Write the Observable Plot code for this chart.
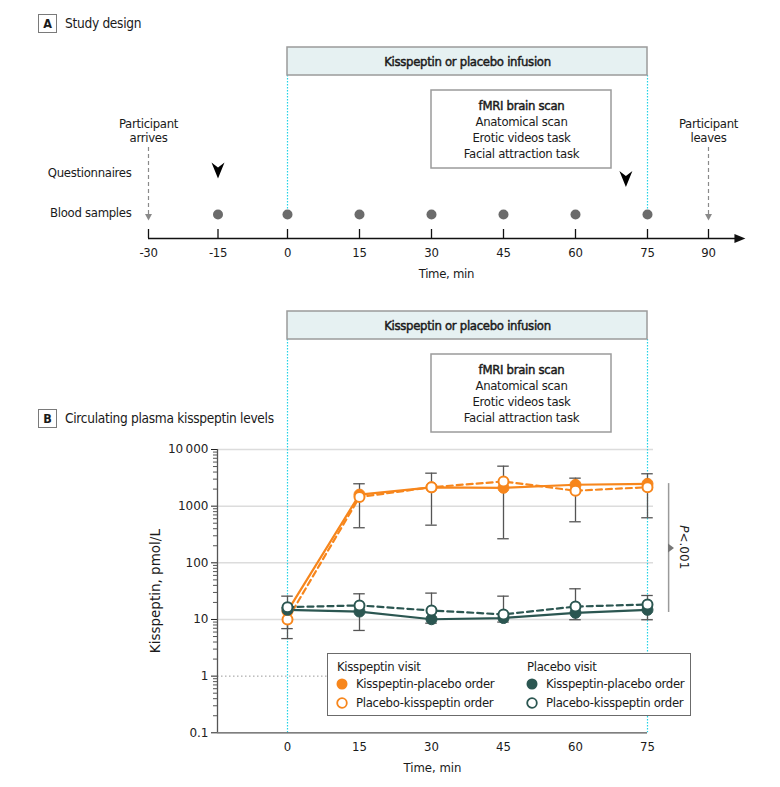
<!DOCTYPE html>
<html>
<head>
<meta charset="utf-8">
<script src="https://cdn.jsdelivr.net/npm/d3@7"></script>
<script src="https://cdn.jsdelivr.net/npm/@observablehq/plot@0.6"></script>
<style>
  html,body{margin:0;padding:0;background:#fff;}
  #wrap{position:relative;width:780px;height:787px;overflow:hidden;font-family:"DejaVu Sans Condensed","Liberation Sans Narrow","Arial Narrow",sans-serif;color:#1a1a1a;}
  #wrap svg{display:block;}
  .panel{position:absolute;left:38px;display:flex;align-items:center;font-size:13.6px;letter-spacing:-0.3px;line-height:19px;white-space:nowrap;}
  .panel .letter{box-sizing:border-box;width:19px;height:19px;border:1px solid #7a7a7a;text-align:center;font-weight:bold;font-size:12.5px;letter-spacing:0;line-height:17px;margin-right:8px;background:#fff;}
  .legend{position:absolute;left:327px;top:653px;width:364px;height:63px;box-sizing:border-box;border:1px solid #6b6b6b;background:#fff;font-size:13px;letter-spacing:-0.3px;}
  .legend .item{position:absolute;white-space:nowrap;line-height:18px;}
  .legend svg{position:absolute;overflow:visible;}
</style>
</head>
<body>
<div id="wrap"></div>
<script>
// ================= DATA =================
// Panel A: study design timeline
const timelineTicks = [-30, -15, 0, 15, 30, 45, 60, 75, 90];
const bloodSampleTimes = [-15, 0, 15, 30, 45, 60, 75];
const questionnaireTimes = [-15, 70.5];
const participantEvents = [
  {t: -30, label: "Participant\narrives"},
  {t: 90, label: "Participant\nleaves"}
];
const infusionWindow = [0, 75];
const infusionLabel = "Kisspeptin or placebo infusion";
const scanWindow = [30, 67.5];
const scanLines = ["fMRI brain scan", "Anatomical scan", "Erotic videos task", "Facial attraction task"];
const rowLabels = ["Questionnaires", "Blood samples"];
const timeTitle = "Time, min";

// Panel B: circulating plasma kisspeptin (pmol/L)
const times = [0, 15, 30, 45, 60, 75];
const kissVisitKP = [14, 1600, 2150, 2110, 2385, 2480];   // kisspeptin visit, kisspeptin-placebo order
const kissVisitPK = [10, 1450, 2160, 2730, 1870, 2160];   // kisspeptin visit, placebo-kisspeptin order
const placVisitKP = [14.8, 13.8, 10.1, 10.6, 13.1, 14.8]; // placebo visit, kisspeptin-placebo order
const placVisitPK = [16.5, 17.7, 14.4, 12.3, 16.9, 18.4]; // placebo visit, placebo-kisspeptin order
const kissErrLow  = [4.6, 416, 462, 266, 530, 624];
const kissErrHigh = [16, 2484, 3820, 5080, 3120, 3730];
const placErrLow  = [6.9, 6.4, 8.6, 9.0, 9.9, 9.9];
const placErrHigh = [25.8, 28.4, 29.2, 25.8, 34.8, 26.5];
const yTicks = [0.1, 1, 10, 100, 1000, 10000];
const gridValues = [10, 100, 1000, 10000];
const dottedRef = [1];
const pBracket = [{lo: 13.3, hi: 2500, mid: 182, joint: 343}];
const yTitle = "Kisspeptin, pmol/L";
const visits = ["Kisspeptin visit", "Placebo visit"];
const orders = ["Kisspeptin-placebo order", "Placebo-kisspeptin order"];
const panelTitles = [{letter: "A", text: "Study design"}, {letter: "B", text: "Circulating plasma kisspeptin levels"}];

// ================= STYLE / LAYOUT =================
const NARROW = '"DejaVu Sans Condensed","Liberation Sans Narrow","Arial Narrow",sans-serif';
const FS = 13;
const ORANGE = "#f7861c", GREEN = "#2b5651", CYAN = "#22d3e6", ERR = "#555", AXIS = "#555", INK = "#1a1a1a";

const chevronDown = {draw(ctx) { ctx.moveTo(0, 8); ctx.lineTo(-6.5, -8); ctx.lineTo(0, -3); ctx.lineTo(6.5, -8); ctx.closePath(); }};
const triDown = {draw(ctx) { ctx.moveTo(0, 3); ctx.lineTo(-3.5, -3.5); ctx.lineTo(3.5, -3.5); ctx.closePath(); }};
const triRight = {draw(ctx) { ctx.moveTo(6, 0); ctx.lineTo(-5, -4.5); ctx.lineTo(-5, 4.5); ctx.closePath(); }};
const triRightSmall = {draw(ctx) { ctx.moveTo(3, 0); ctx.lineTo(-3, -4.5); ctx.lineTo(-3, 4.5); ctx.closePath(); }};

// Panel A (plus panel B header boxes) pixel rows
const infBoxes = [{y1: 47, y2: 75, ty: 61}, {y1: 311, y2: 339, ty: 325}];
const scanBoxes = [{y1: 90, y2: 168, ty: 105}, {y1: 354, y2: 432, ty: 369}];
const lineGap = 16;
const cyanSegs = [{y1: 75, y2: 214}, {y1: 339, y2: 440}];
const rowY = {partText: 130, partArrowTop: 147, partArrowBot: 215, partHead: 217,
  labels: [172, 212], questMarks: [170, 178.5], blood: 214, axis: 238, tickTop: 229,
  tickLabel: 252, axisTitle: 273};

const scanText = scanBoxes.flatMap(b => scanLines.map((s, i) => ({s, y: b.ty + i * lineGap, bold: i === 0})));
const cyanRules = cyanSegs.flatMap(seg => infusionWindow.map(t => ({t, ...seg})));

const plotA = Plot.plot({
  width: 780, height: 440, margin: 0,
  x: {type: "linear", domain: [-30, 0, 75, 90], range: [148, 287, 647, 708], axis: null},
  y: {type: "linear", domain: [0, 440], range: [0, 440], axis: null},
  style: {fontFamily: NARROW, fontSize: FS + "px", letterSpacing: "-0.3px", color: INK, background: "transparent", overflow: "visible"},
  marks: [
    Plot.ruleX(cyanRules, {x: "t", y1: "y1", y2: "y2", stroke: CYAN, strokeWidth: 1.2, strokeDasharray: "1.5,1.5"}),
    Plot.rect(infBoxes, {x1: () => infusionWindow[0], x2: () => infusionWindow[1], y1: "y1", y2: "y2", fill: "#e6f1f2", stroke: "#9b9b9b", strokeWidth: 1.5}),
    Plot.text(infBoxes, {x: () => (infusionWindow[0] + infusionWindow[1]) / 2, y: "ty", text: () => infusionLabel, fill: INK, stroke: INK, strokeWidth: 0.45}),
    Plot.rect(scanBoxes, {x1: () => scanWindow[0], x2: () => scanWindow[1], y1: "y1", y2: "y2", fill: "white", stroke: "#9b9b9b", strokeWidth: 1.5}),
    Plot.text(scanText.filter(d => d.bold), {x: () => (scanWindow[0] + scanWindow[1]) / 2, y: "y", text: "s", fill: INK, stroke: INK, strokeWidth: 0.45}),
    Plot.text(scanText.filter(d => !d.bold), {x: () => (scanWindow[0] + scanWindow[1]) / 2, y: "y", text: "s"}),
    // participant arrive/leave
    Plot.text(participantEvents, {x: "t", y: () => rowY.partText, text: "label", lineHeight: 1.08}),
    Plot.ruleX(participantEvents, {x: "t", y1: () => rowY.partArrowTop, y2: () => rowY.partArrowBot, stroke: "#8a8a8a", strokeWidth: 1.2, strokeDasharray: "4,3"}),
    Plot.dot(participantEvents, {x: "t", y: () => rowY.partHead, symbol: triDown, fill: "#8a8a8a", stroke: "none"}),
    // row labels
    Plot.text(rowLabels, {frameAnchor: "left", dx: 131, textAnchor: "end", y: (d, i) => rowY.labels[i], text: d => d}),
    // questionnaires
    Plot.dot(questionnaireTimes, {x: d => d, y: (d, i) => rowY.questMarks[i], symbol: chevronDown, fill: "#000", stroke: "none"}),
    // blood samples
    Plot.dot(bloodSampleTimes, {x: d => d, y: () => rowY.blood, r: 5, fill: "#6b6b6b"}),
    // axis
    Plot.ruleY([rowY.axis], {x1: -30, x2: 97.5, y: d => d, stroke: "#111", strokeWidth: 1.5}),
    Plot.dot([rowY.axis], {x: () => 97.6, y: d => d, symbol: triRight, fill: "#111", stroke: "none"}),
    Plot.ruleX(timelineTicks, {x: d => d, y1: () => rowY.tickTop, y2: () => rowY.axis, stroke: "#111", strokeWidth: 1.3}),
    Plot.text(timelineTicks, {x: d => d, y: () => rowY.tickLabel, text: d => String(d)}),
    Plot.text([timeTitle], {x: () => 33.1, y: () => rowY.axisTitle, text: d => d})
  ]
});

// Panel B chart
const xmin = -14.583, xmax = 76.25;
const series = [
  {values: kissVisitKP, color: ORANGE, filled: true, dash: null},
  {values: kissVisitPK, color: ORANGE, filled: false, dash: "6,4"},
  {values: placVisitKP, color: GREEN, filled: true, dash: null},
  {values: placVisitPK, color: GREEN, filled: false, dash: "6,4"}
];
const seriesRows = series.map(s => times.map((t, i) => ({t, v: s.values[i]})));
const errRows = [
  ...times.map((t, i) => ({t, lo: kissErrLow[i], hi: kissErrHigh[i]})),
  ...times.map((t, i) => ({t, lo: placErrLow[i], hi: placErrHigh[i]}))
];
const capRows = errRows.flatMap(d => [{t: d.t, v: d.lo}, {t: d.t, v: d.hi}]);
const minorTicks = [0.1, 1, 10, 100, 1000].flatMap(dec => [2, 3, 4, 5, 6, 7, 8, 9].map(k => dec * k));
const capHalf = 1.2;

const lineMarks = series.map((s, k) => Plot.line(seriesRows[k], {x: "t", y: "v", stroke: s.color, strokeWidth: 2.2, strokeDasharray: s.dash || undefined}));
const dotMarks = series.map((s, k) => Plot.dot(seriesRows[k], {x: "t", y: "v", r: s.filled ? 5.5 : 5, fill: s.filled ? s.color : "white", stroke: s.color, strokeWidth: s.filled ? 1 : 2}));

const plotB = Plot.plot({
  width: 780, height: 347, marginTop: 9, marginBottom: 54.7, marginLeft: 217, marginRight: 127,
  x: {domain: [xmin, xmax], axis: null},
  y: {type: "log", domain: [0.1, 10000], ticks: yTicks, tickSize: 6, tickPadding: 3, label: null,
      tickFormat: d => d === 10000 ? "10\u2009000" : String(d)},
  style: {fontFamily: '"DejaVu Sans", Verdana, sans-serif', fontSize: "12px", color: "#222", background: "transparent", overflow: "visible"},
  marks: [
    Plot.ruleY(gridValues, {x1: xmin, x2: xmax, y: d => d, stroke: "#dcdcdc", strokeWidth: 1.5}),
    Plot.ruleY(dottedRef, {x1: xmin, x2: xmax, y: d => d, stroke: "#999", strokeWidth: 1, strokeDasharray: "1.5,2.5"}),
    Plot.ruleX(infusionWindow, {x: d => d, insetTop: -9, stroke: CYAN, strokeWidth: 1.2, strokeDasharray: "1.5,1.5"}),
    Plot.ruleY(minorTicks, {x1: xmin - 4 / 4.8, x2: xmin, y: d => d, stroke: AXIS, strokeWidth: 1}),
    Plot.ruleX([xmin], {x: d => d, y1: 0.1, y2: 10000, stroke: AXIS, strokeWidth: 1.3}),
    Plot.ruleY([0.1], {x1: xmin, x2: 75, y: d => d, stroke: AXIS, strokeWidth: 1.3}),
    // error bars
    Plot.ruleX(errRows, {x: "t", y1: "lo", y2: "hi", stroke: ERR, strokeWidth: 1.3}),
    Plot.ruleY(capRows, {x1: d => d.t - capHalf, x2: d => d.t + capHalf, y: "v", stroke: ERR, strokeWidth: 1.3}),
    ...lineMarks,
    ...dotMarks,
    // P bracket
    Plot.ruleX(pBracket, {x: () => 79.4, y1: "lo", y2: "hi", stroke: "#9a9a9a", strokeWidth: 1.5}),
    Plot.dot(pBracket, {x: () => 79.9, y: "mid", symbol: triRightSmall, fill: "#777", stroke: "none"}),
    Plot.text(pBracket, {x: () => 82.5, y: "joint", text: () => "P", rotate: 90, textAnchor: "end", fontStyle: "italic", fontSize: 12}),
    Plot.text(pBracket, {x: () => 82.5, y: "joint", text: () => "<.001", rotate: 90, textAnchor: "start", fontSize: 12}),
    // x tick labels and titles
    Plot.text(times, {x: d => d, y: () => 0.1, dy: 14, text: d => String(d), fontFamily: NARROW, fontSize: FS, fill: INK}),
    Plot.text([timeTitle], {x: () => (xmin + 75) / 2, y: () => 0.1, dy: 35, text: d => d, fontFamily: NARROW, fontSize: FS, fill: INK}),
    Plot.text([yTitle], {frameAnchor: "left", dx: -62, rotate: -90, textAnchor: "middle", text: d => d, fontSize: 13.5, fill: INK})
  ]
});

const wrap = document.getElementById("wrap");
wrap.appendChild(plotA);
wrap.appendChild(plotB);

// panel titles
[14, 409].forEach((top, i) => {
  const d = document.createElement("div");
  d.className = "panel";
  d.style.top = top + "px";
  d.innerHTML = `<span class="letter">${panelTitles[i].letter}</span><span>${panelTitles[i].text}</span>`;
  wrap.appendChild(d);
});

// legend
const leg = document.createElement("div");
leg.className = "legend";
const groupLeft = [9, 199];
const colors = [ORANGE, GREEN];
visits.forEach((v, g) => {
  const h = document.createElement("div");
  h.className = "item";
  h.style.left = groupLeft[g] + "px";
  h.style.top = (14 - 10) + "px";
  h.textContent = v;
  leg.appendChild(h);
  orders.forEach((o, k) => {
    const cy = [31, 50][k] - 1;
    const s = document.createElementNS("http://www.w3.org/2000/svg", "svg");
    s.setAttribute("width", 14); s.setAttribute("height", 14);
    s.style.left = (groupLeft[g] + 5 - 7) + "px";
    s.style.top = (cy - 7) + "px";
    const c = document.createElementNS("http://www.w3.org/2000/svg", "circle");
    c.setAttribute("cx", 7); c.setAttribute("cy", 7);
    if (k === 0) { c.setAttribute("r", 5.5); c.setAttribute("fill", colors[g]); }
    else { c.setAttribute("r", 4.8); c.setAttribute("fill", "white"); c.setAttribute("stroke", colors[g]); c.setAttribute("stroke-width", 1.8); }
    s.appendChild(c);
    leg.appendChild(s);
    const t = document.createElement("div");
    t.className = "item";
    t.style.left = (groupLeft[g] + 19) + "px";
    t.style.top = (cy - 9) + "px";
    t.textContent = o;
    leg.appendChild(t);
  });
});
wrap.appendChild(leg);
</script>
</body>
</html>
